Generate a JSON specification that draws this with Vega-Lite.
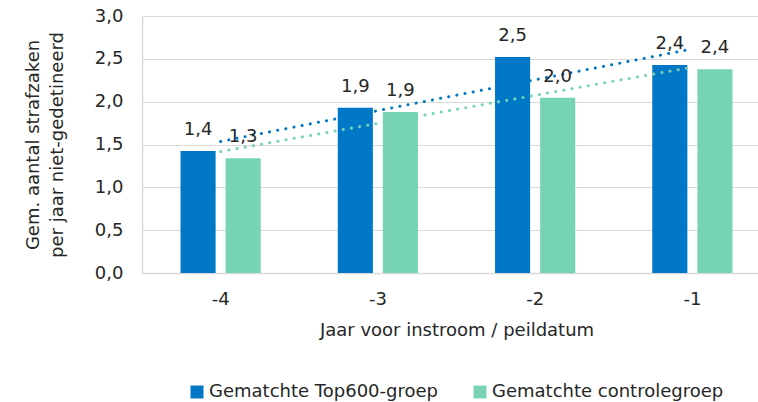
{
  "$schema": "https://vega.github.io/schema/vega-lite/v6.json",
  "width": 616,
  "height": 257,
  "autosize": {"type": "none"},
  "padding": {"left": 142, "top": 16, "right": 0, "bottom": 129},
  "background": "white",
  "config": {
    "locale": {"number": {"decimal": ",", "thousands": ".", "grouping": [3], "currency": ["€", ""]}},
    "font": "DejaVu Sans",
    "view": {"stroke": null},
    "axis": {"labelFont": "DejaVu Sans", "titleFont": "DejaVu Sans", "labelColor": "#262626", "titleColor": "#262626", "titleFontWeight": "normal"}
  },
  "datasets": {
    "table": [
      {"cat": "-4", "idx": 1, "series": "Gematchte Top600-groep", "value": 1.424},
      {"cat": "-4", "idx": 1, "series": "Gematchte controlegroep", "value": 1.339},
      {"cat": "-3", "idx": 2, "series": "Gematchte Top600-groep", "value": 1.93},
      {"cat": "-3", "idx": 2, "series": "Gematchte controlegroep", "value": 1.88},
      {"cat": "-2", "idx": 3, "series": "Gematchte Top600-groep", "value": 2.52},
      {"cat": "-2", "idx": 3, "series": "Gematchte controlegroep", "value": 2.046},
      {"cat": "-1", "idx": 4, "series": "Gematchte Top600-groep", "value": 2.428},
      {"cat": "-1", "idx": 4, "series": "Gematchte controlegroep", "value": 2.378}
    ]
  },
  "data": {"name": "table"},
  "encoding": {
    "x": {
      "field": "cat", "type": "nominal",
      "scale": {"domain": ["-4", "-3", "-2", "-1"], "range": [0, 629], "paddingInner": 0.49, "paddingOuter": 0.245},
      "axis": {"title": "Jaar voor instroom / peildatum", "labelAngle": 0, "labelFontSize": 18, "titleFontSize": 18, "ticks": false, "tickSize": 0, "labelPadding": 17, "titlePadding": 13, "domainColor": "#d9d9d9", "domainWidth": 1.5}
    },
    "y": {
      "field": "value", "type": "quantitative",
      "scale": {"domain": [0, 3]},
      "axis": {"title": ["Gem. aantal strafzaken", "per jaar niet-gedetineerd"], "values": [0, 0.5, 1, 1.5, 2, 2.5, 3], "format": ".1f", "labelFontSize": 18, "titleFontSize": 18, "titleLineHeight": 24, "ticks": false, "tickSize": 0, "labelPadding": 19, "titlePadding": 28, "domain": true, "domainColor": "#d9d9d9", "domainWidth": 1.5, "gridColor": "#d9d9d9", "gridWidth": 1}
    }
  },
  "layer": [
    {
      "mark": {"type": "bar"},
      "encoding": {
        "xOffset": {"field": "series", "type": "nominal", "scale": {"domain": ["Gematchte Top600-groep", "Gematchte controlegroep"], "paddingInner": 0.222, "paddingOuter": 0}},
        "color": {
          "field": "series", "type": "nominal",
          "scale": {"domain": ["Gematchte Top600-groep", "Gematchte controlegroep"], "range": ["#0078c8", "#76d3b6"]},
          "legend": {"title": null, "orient": "none", "direction": "horizontal", "legendX": 46, "legendY": 367, "symbolType": "square", "symbolSize": 169, "symbolStrokeWidth": 0, "labelFontSize": 18, "labelColor": "#262626", "labelFont": "DejaVu Sans", "columnPadding": 33, "labelOffset": 3, "labelLimit": 400}
        }
      }
    },
    {
      "transform": [
        {"regression": "value", "on": "idx", "groupby": ["series"]},
        {"lookup": "idx", "from": {"data": {"name": "table"}, "key": "idx", "fields": ["cat"]}}
      ],
      "mark": {"type": "line", "strokeWidth": 3, "strokeDash": [0.1, 8.2], "strokeCap": "round"},
      "encoding": {
        "color": {"field": "series", "type": "nominal", "legend": null}
      }
    },
    {
      "mark": {"type": "text", "fontSize": 18, "dy": -16, "baseline": "alphabetic", "color": "#262626", "font": "DejaVu Sans"},
      "encoding": {
        "xOffset": {"field": "series", "type": "nominal"},
        "text": {"field": "value", "type": "quantitative", "format": ".1f"}
      }
    }
  ]
}
